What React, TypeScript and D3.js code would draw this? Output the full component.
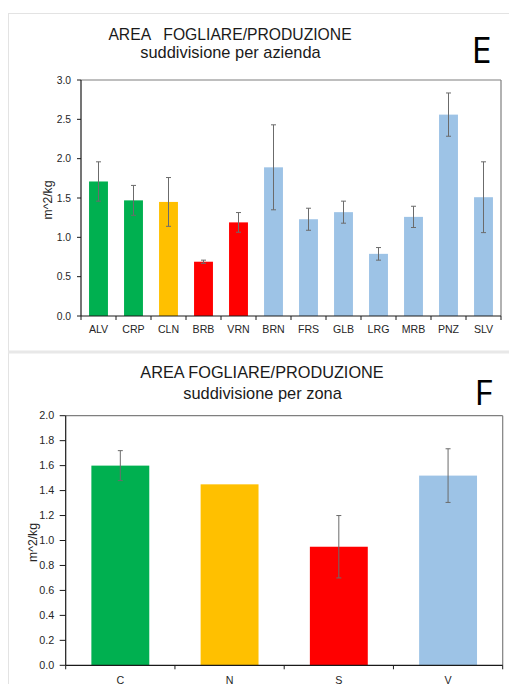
import React from "react";
import * as d3 from "d3";

// Leaf area / production per farm (panel E)
const farms = ["ALV", "CRP", "CLN", "BRB", "VRN", "BRN", "FRS", "GLB", "LRG", "MRB", "PNZ", "SLV"];
const farmValues = [1.71, 1.47, 1.45, 0.69, 1.19, 1.89, 1.23, 1.32, 0.79, 1.26, 2.56, 1.51];
const farmErrors = [0.25, 0.19, 0.31, 0.02, 0.125, 0.54, 0.14, 0.14, 0.08, 0.135, 0.275, 0.45];
const farmZone = ["C", "C", "N", "S", "S", "V", "V", "V", "V", "V", "V", "V"];

// Leaf area / production per zone (panel F)
const zones = ["C", "N", "S", "V"];
const zoneValues = [1.6, 1.45, 0.95, 1.52];
const zoneErrors = [0.12, 0, 0.25, 0.215];

const yTicksE = [0, 0.5, 1, 1.5, 2, 2.5, 3];
const yTicksF = [0, 0.2, 0.4, 0.6, 0.8, 1, 1.2, 1.4, 1.6, 1.8, 2];

const zoneColor: Record<string, string> = {
  C: "#00B050",
  N: "#FFC000",
  S: "#FF0000",
  V: "#9DC3E6",
};

const FONT = "'Liberation Sans', Arial, sans-serif";
const LETTER_FONT = "'Open Sans', 'Liberation Sans', sans-serif";

type PanelProps = {
  cats: string[];
  values: number[];
  errors: number[];
  colors: string[];
  x0: number;
  x1: number;
  yTop: number;
  yBottom: number;
  yMax: number;
  ticks: number[];
  padding: number;
  tickFont: number;
  tickLen: number;
  labelRight: number;
  catFont: number;
  catBaseline: number;
  axisLabelX: number;
};

function BarPanel(p: PanelProps) {
  const x = d3.scaleBand<string>().domain(p.cats).range([p.x0, p.x1]).paddingInner(p.padding).paddingOuter(p.padding / 2);
  const y = d3.scaleLinear().domain([0, p.yMax]).range([p.yBottom, p.yTop]);
  const step = x.step();
  const bw = x.bandwidth();
  const fmt = d3.format(".1f");
  const boundaries = p.cats.map((c) => (x(c) as number) - (step * p.padding) / 2).concat([p.x1]);
  return (
    <g>
      {p.cats.map((c, i) => (
        <rect key={c} x={x(c)} y={y(p.values[i])} width={bw} height={y(0) - y(p.values[i])} fill={p.colors[i]} />
      ))}
      {p.cats.map((c, i) => {
        const e = p.errors[i];
        if (!e) return null;
        const cx = (x(c) as number) + bw / 2;
        const t = y(p.values[i] + e);
        const b = y(p.values[i] - e);
        return (
          <g key={"e" + c} stroke="#6b6b6b" strokeWidth={1}>
            <line x1={cx} x2={cx} y1={t} y2={b} />
            <line x1={cx - 2.5} x2={cx + 2.5} y1={t} y2={t} />
            <line x1={cx - 2.5} x2={cx + 2.5} y1={b} y2={b} />
          </g>
        );
      })}
      {/* frame */}
      <line x1={p.x0} x2={p.x1} y1={p.yTop} y2={p.yTop} stroke="#7f7f7f" strokeWidth={1.2} />
      <line x1={p.x1} x2={p.x1} y1={p.yTop} y2={p.yBottom} stroke="#7f7f7f" strokeWidth={1.2} />
      <line x1={p.x0} x2={p.x0} y1={p.yTop} y2={p.yBottom} stroke="#1a1a1a" strokeWidth={1.2} />
      <line x1={p.x0} x2={p.x1} y1={p.yBottom} y2={p.yBottom} stroke="#1a1a1a" strokeWidth={1.2} />
      {/* y axis */}
      {p.ticks.map((t) => (
        <g key={"t" + t}>
          <line x1={p.x0 - p.tickLen} x2={p.x0} y1={y(t)} y2={y(t)} stroke="#1a1a1a" strokeWidth={1} />
          <text x={p.labelRight} y={y(t)} dy="0.35em" textAnchor="end" fontSize={p.tickFont} fontFamily={FONT} fill="#262626">
            {fmt(t)}
          </text>
        </g>
      ))}
      {/* x axis */}
      {boundaries.map((bx, i) => (
        <line key={"b" + i} x1={bx} x2={bx} y1={p.yBottom} y2={p.yBottom + 4} stroke="#1a1a1a" strokeWidth={1} />
      ))}
      {p.cats.map((c) => (
        <text key={"l" + c} x={(x(c) as number) + bw / 2} y={p.catBaseline} textAnchor="middle" fontSize={p.catFont} fontFamily={FONT} fill="#262626">
          {c}
        </text>
      ))}
      <text
        transform={`translate(${p.axisLabelX},${(p.yTop + p.yBottom) / 2 + 2}) rotate(-90)`}
        textAnchor="middle"
        dy="0.35em"
        fontSize={12.2}
        fontFamily={FONT}
        fill="#262626"
      >
        m^2/kg
      </text>
    </g>
  );
}

export default function App() {
  return (
    <svg width={509} height={684} style={{ position: "absolute", left: 0, top: 0, background: "#fff" }}>
      <rect width={509} height={684} fill="#fff" />
      {/* panel frames */}
      <line x1={8.5} x2={8.5} y1={13} y2={684} stroke="#e3e3e3" strokeWidth={1} />
      <line x1={8} x2={509} y1={13.5} y2={13.5} stroke="#e3e3e3" strokeWidth={1} />
      <rect x={8} y={350.5} width={501} height={3} fill="#e8e8e8" />

      {/* Panel E */}
      <text x={230} y={39.5} textAnchor="middle" fontSize={15.7} fontFamily={FONT} fill="#1a1a1a" style={{ whiteSpace: "pre" }}>
        {"AREA   FOGLIARE/PRODUZIONE"}
      </text>
      <text x={230.5} y={58} textAnchor="middle" fontSize={16.4} fontFamily={FONT} fill="#1a1a1a">
        suddivisione per azienda
      </text>
      <text x={481.5} y={63} textAnchor="middle" fontSize={36} fontFamily={LETTER_FONT} fill="#000">
        E
      </text>
      <BarPanel
        cats={farms}
        values={farmValues}
        errors={farmErrors}
        colors={farmZone.map((z) => zoneColor[z])}
        x0={81}
        x1={501}
        yTop={80}
        yBottom={316}
        yMax={3}
        ticks={yTicksE}
        padding={0.46}
        tickFont={10.3}
        tickLen={4}
        labelRight={71}
        catFont={10.6}
        catBaseline={333}
        axisLabelX={48}
      />

      {/* Panel F */}
      <text x={262} y={378.3} textAnchor="middle" fontSize={16.3} fontFamily={FONT} fill="#1a1a1a">
        AREA FOGLIARE/PRODUZIONE
      </text>
      <text x={262.5} y={398.5} textAnchor="middle" fontSize={16.4} fontFamily={FONT} fill="#1a1a1a">
        suddivisione per zona
      </text>
      <text x={483.5} y={405} textAnchor="middle" fontSize={35} fontFamily={LETTER_FONT} fill="#000">
        F
      </text>
      <BarPanel
        cats={zones}
        values={zoneValues}
        errors={zoneErrors}
        colors={zones.map((z) => zoneColor[z])}
        x0={65.7}
        x1={502.7}
        yTop={415.7}
        yBottom={665.3}
        yMax={2}
        ticks={yTicksF}
        padding={0.47}
        tickFont={10.8}
        tickLen={6}
        labelRight={54.3}
        catFont={10.7}
        catBaseline={683.5}
        axisLabelX={33}
      />
    </svg>
  );
}
